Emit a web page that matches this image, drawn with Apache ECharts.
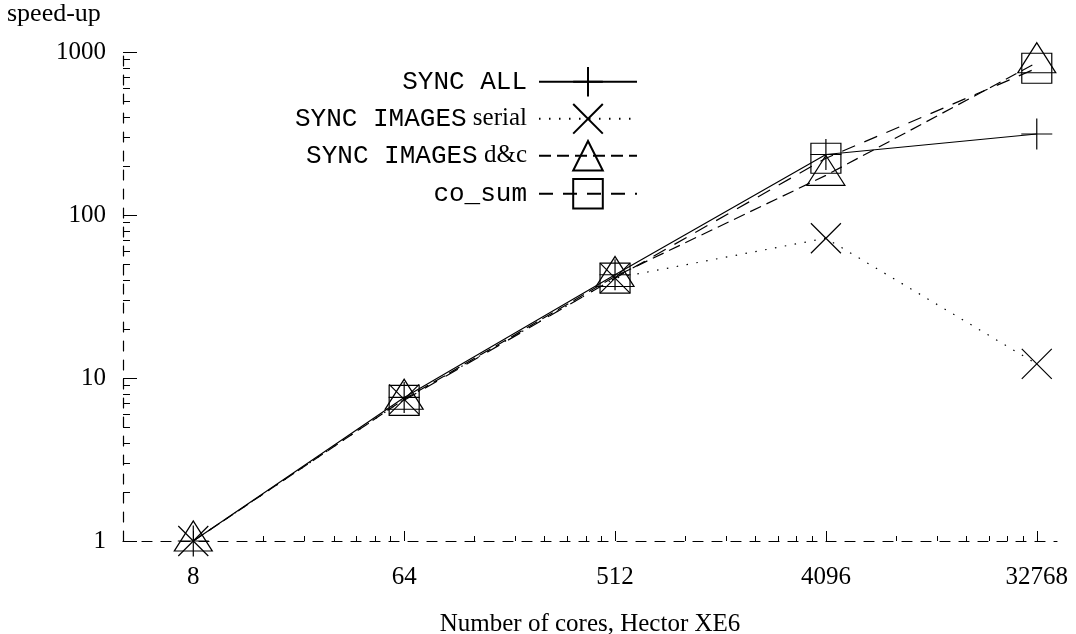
<!DOCTYPE html>
<html>
<head>
<meta charset="utf-8">
<script src="https://cdn.jsdelivr.net/npm/echarts@6/dist/echarts.min.js"></script>
<style>html,body{margin:0;padding:0;background:#fff}#c{width:1076px;height:634px}</style>
</head>
<body>
<div id="c"></div>
<script>
// ---- data ----
const cores = [8, 64, 512, 4096, 32768];
const syncAll = [1, 7.6, 43, 235, 314];
const syncSerial = [1, 7.4, 41, 72, 12.2];
const syncDC = [1, 7.4, 42, 175, 860];
const coSum = [null, 7.3, 41, 223, 795];
const xTickValues = [8, 64, 512, 4096, 32768];
const xMinorTicks = [16, 24, 32, 40, 48, 56, 128, 192, 256, 320, 384, 448, 1024, 1536, 2048, 2560, 3072, 3584, 8192, 12288, 16384, 20480, 24576, 28672];
const yTickValues = [1, 10, 100, 1000];
const yMinorTicks = [2, 3, 4, 5, 6, 7, 8, 9, 20, 30, 40, 50, 60, 70, 80, 90, 200, 300, 400, 500, 600, 700, 800, 900];
const seriesNames = ['SYNC ALL', 'SYNC IMAGES serial', 'SYNC IMAGES d&c', 'co_sum'];

const SERIF = 'Liberation Serif';
const MONO = 'Liberation Mono';
const pairs = v => cores.map((c, i) => [c, v[i]]);

const legendLabel = {
  'SYNC ALL': '{m|SYNC ALL}',
  'SYNC IMAGES serial': '{m|SYNC IMAGES}{s| serial}',
  'SYNC IMAGES d&c': '{m|SYNC IMAGES}{s| d&c}',
  'co_sum': '{m|co_sum}'
};
const legendTops = [66, 103, 140, 178];

const chart = echarts.init(document.getElementById('c'), null, {renderer: 'canvas'});
const baseItem = {color: 'rgba(0,0,0,0)', borderColor: '#000', borderWidth: 1.2};

chart.setOption({
  animation: false,
  backgroundColor: '#fff',
  title: {text: 'speed-up', left: 7, top: 1, padding: 0,
    textStyle: {fontFamily: SERIF, fontSize: 26, fontWeight: 'normal', color: '#000'}},
  grid: {left: 123, right: 19, top: 52, bottom: 93, containLabel: false, outerBoundsMode: 'none'},
  legend: seriesNames.map((n, i) => ({
    data: [n], orient: 'vertical', right: 438, top: legendTops[i], padding: 0,
    align: 'right', itemWidth: 98, itemHeight: 37, selectedMode: false,
    formatter: name => legendLabel[name],
    textStyle: {color: '#000', padding: [0, 7, 0, 0],
      rich: {m: {fontFamily: MONO, fontSize: 26, color: '#000'},
             s: {fontFamily: SERIF, fontSize: 25, color: '#000'}}}
  })),
  xAxis: [{
    type: 'log', logBase: 2, min: 4, max: 40000, position: 'bottom',
    name: 'Number of cores, Hector XE6', nameLocation: 'middle', nameGap: 71,
    nameTextStyle: {fontFamily: SERIF, fontSize: 25, color: '#000'},
    axisLine: {show: true, lineStyle: {color: '#000', width: 1.2, type: [10, 9]}},
    axisTick: {show: true, inside: true, length: 10, customValues: xTickValues, lineStyle: {color: '#000', width: 1}},
    axisLabel: {customValues: xTickValues, fontFamily: SERIF, fontSize: 25, color: '#000', margin: 24,
      formatter: v => String(Math.round(v))},
    splitLine: {show: false}
  }, {
    type: 'log', logBase: 2, min: 4, max: 40000, position: 'bottom',
    axisLine: {show: false},
    axisTick: {show: true, inside: true, length: 5, customValues: xMinorTicks, lineStyle: {color: '#000', width: 1}},
    axisLabel: {show: false},
    splitLine: {show: false}
  }],
  yAxis: [{
    type: 'log', logBase: 10, min: 1, max: 1000, position: 'left',
    axisLine: {show: true, lineStyle: {color: '#000', width: 1.2, type: [10, 9]}},
    axisTick: {show: true, inside: true, length: 14, customValues: yTickValues, lineStyle: {color: '#000', width: 1}},
    axisLabel: {customValues: yTickValues, fontFamily: SERIF, fontSize: 25, color: '#000', margin: 17,
      formatter: v => String(Math.round(v))},
    splitLine: {show: false}
  }, {
    type: 'log', logBase: 10, min: 1, max: 1000, position: 'left',
    axisLine: {show: false},
    axisTick: {show: true, inside: true, length: 7, customValues: yMinorTicks, lineStyle: {color: '#000', width: 1}},
    axisLabel: {show: false},
    splitLine: {show: false}
  }],
  series: [
    {name: seriesNames[0], type: 'line', data: pairs(syncAll),
     symbol: 'path://M0,-16L0,16M-16,0L16,0', symbolSize: 31, symbolKeepAspect: true,
     itemStyle: baseItem, lineStyle: {color: '#000', width: 1.2, type: 'solid'}},
    {name: seriesNames[1], type: 'line', data: pairs(syncSerial),
     symbol: 'path://M-15,-15L15,15M-15,15L15,-15', symbolSize: 30, symbolKeepAspect: true,
     itemStyle: baseItem, lineStyle: {color: '#000', width: 1.2, type: [1.5, 8.5]}},
    {name: seriesNames[2], type: 'line', data: pairs(syncDC),
     symbol: 'path://M0,-20L19,10L-19,10Z', symbolSize: [38, 30], symbolOffset: [0, -5],
     itemStyle: baseItem, lineStyle: {color: '#000', width: 1.2, type: [12, 6]}},
    {name: seriesNames[3], type: 'line', data: pairs(coSum), connectNulls: false,
     symbol: 'rect', symbolSize: 30,
     itemStyle: baseItem, lineStyle: {color: '#000', width: 1.2, type: [14, 10]}}
  ]
});
</script>
</body>
</html>
